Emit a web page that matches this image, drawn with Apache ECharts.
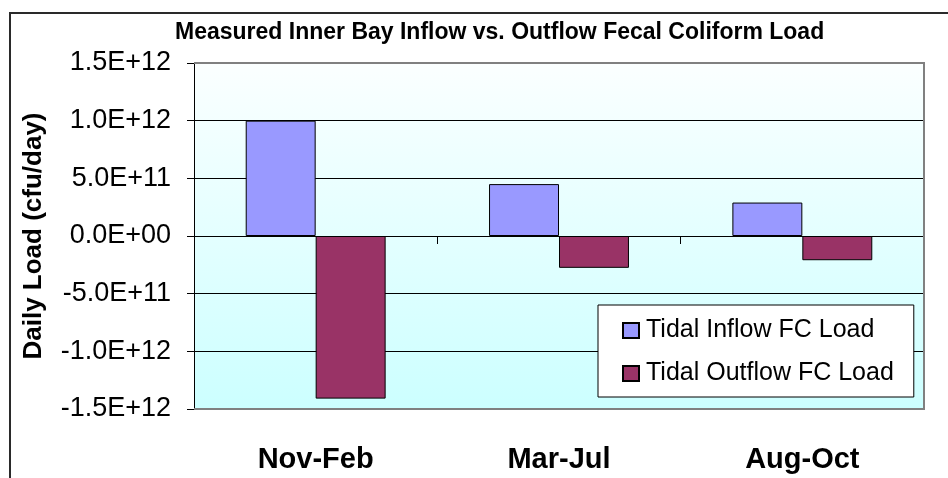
<!DOCTYPE html>
<html>
<head>
<meta charset="utf-8">
<script src="https://cdn.jsdelivr.net/npm/echarts@6/dist/echarts.min.js"></script>
<style>
  html, body { margin: 0; padding: 0; background: #ffffff; }
  #chart { width: 948px; height: 478px; }
</style>
</head>
<body>
<div id="chart"></div>
<script>
// Seasonal fecal coliform loads (cfu/day)
const categories = ['Nov-Feb', 'Mar-Jul', 'Aug-Oct'];
const inflowLoad = [1.0e12, 4.5e11, 2.9e11];
const outflowLoad = [-1.41e12, -2.76e11, -2.1e11];
const seriesNames = ['Tidal Inflow FC Load', 'Tidal Outflow FC Load'];
const yMin = -1.5e12, yMax = 1.5e12, yStep = 5e11;

const FONT = "'Liberation Sans', Arial, sans-serif";

// plot area box
const G = { left: 194, top: 63, right: 924, bottom: 409 };

// 1.5E+12 style scientific labels
function sci(v) {
  const s = Number(v).toExponential(1);
  const m = s.match(/^(-?[\d.]+)e([+-])(\d+)$/);
  if (!m) return s;
  const exp = m[3].length < 2 ? '0' + m[3] : m[3];
  return m[1] + 'E' + m[2] + exp;
}

const chart = echarts.init(document.getElementById('chart'), null, { renderer: 'canvas' });

chart.setOption({
  animation: false,
  backgroundColor: '#ffffff',
  textStyle: { fontFamily: FONT },
  title: {
    text: 'Measured Inner Bay Inflow vs. Outflow Fecal Coliform Load',
    left: 175,
    top: 21,
    padding: 0,
    textStyle: { fontFamily: FONT, fontSize: 23, fontWeight: 'bold', color: '#000' }
  },
  grid: {
    left: G.left,
    top: G.top,
    right: 948 - G.right,
    bottom: 478 - G.bottom,
    show: true,
    borderWidth: 0,
    backgroundColor: {
      type: 'linear', x: 0, y: 0, x2: 0, y2: 1,
      colorStops: [
        { offset: 0, color: '#fbffff' },
        { offset: 1, color: '#ccffff' }
      ]
    }
  },
  legend: {
    orient: 'vertical',
    left: 598,
    top: 305,
    padding: [13, 20, 11, 24],
    itemGap: 18,
    itemWidth: 16,
    itemHeight: 15,
    icon: 'rect',
    backgroundColor: '#ffffff',
    borderColor: '#000000',
    borderWidth: 1,
    borderRadius: 0,
    textStyle: { fontFamily: FONT, fontSize: 25, color: '#000', padding: [0, 0, 0, 2] },
    data: seriesNames
  },
  xAxis: [
    {
      // axis line across zero with tick marks between categories
      type: 'category',
      data: categories,
      position: 'top',
      axisLine: { show: true, onZero: true, lineStyle: { color: '#000', width: 1 } },
      axisTick: { show: true, inside: true, length: 8, lineStyle: { color: '#000' } },
      axisLabel: { show: false },
      splitLine: { show: false }
    },
    {
      // category names along the bottom
      type: 'category',
      data: categories,
      position: 'bottom',
      axisLine: { show: false },
      axisTick: { show: false },
      axisLabel: {
        show: true, margin: 36,
        fontFamily: FONT, fontSize: 29, fontWeight: 'bold', color: '#000'
      },
      splitLine: { show: false }
    }
  ],
  yAxis: {
    type: 'value',
    min: yMin,
    max: yMax,
    interval: yStep,
    name: 'Daily Load (cfu/day)',
    nameLocation: 'middle',
    nameRotate: 90,
    nameGap: 147,
    nameTextStyle: { fontFamily: FONT, fontSize: 26, fontWeight: 'bold', color: '#000' },
    axisLine: { show: true, lineStyle: { color: '#000', width: 1 } },
    axisTick: { show: true, length: 7, lineStyle: { color: '#000' } },
    axisLabel: {
      margin: 23,
      padding: [4, 0, 0, 0],
      fontFamily: FONT, fontSize: 27, color: '#000',
      formatter: sci
    },
    splitLine: { show: true, lineStyle: { color: '#000', width: 1 } }
  },
  series: [
    {
      name: seriesNames[0],
      type: 'bar',
      xAxisIndex: 0,
      data: inflowLoad,
      barGap: '0%',
      barCategoryGap: '42.5%',
      itemStyle: { color: '#9999ff', borderColor: '#000', borderWidth: 1 }
    },
    {
      name: seriesNames[1],
      type: 'bar',
      xAxisIndex: 0,
      data: outflowLoad,
      barGap: '0%',
      barCategoryGap: '42.5%',
      itemStyle: { color: '#993366', borderColor: '#000', borderWidth: 1 }
    }
  ],
  graphic: [
    {
      // plot area frame (top, right, bottom)
      type: 'polyline',
      z: 100,
      silent: true,
      shape: { points: [[G.left, G.top], [G.right, G.top], [G.right, G.bottom], [G.left, G.bottom]] },
      style: { stroke: '#808080', lineWidth: 2, fill: null }
    },
    {
      // chart frame
      type: 'rect',
      z: 100,
      silent: true,
      shape: { x: 10, y: 13, width: 960, height: 500 },
      style: { stroke: '#2a2a2a', lineWidth: 2, fill: null }
    }
  ]
});
</script>
</body>
</html>
